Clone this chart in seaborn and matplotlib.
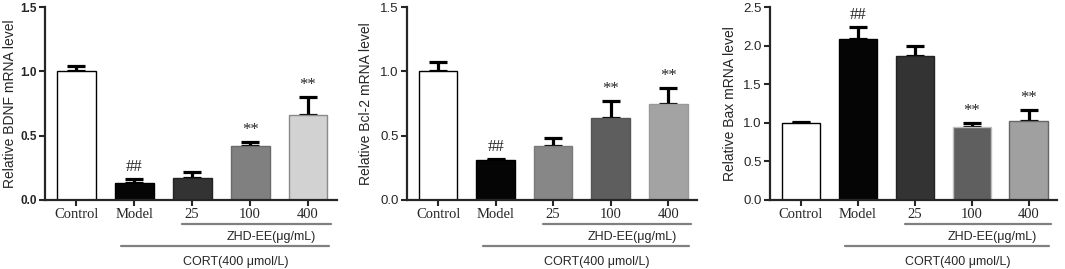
import numpy as np
import pandas as pd
import matplotlib
matplotlib.use("Agg")
import matplotlib.pyplot as plt
import matplotlib.transforms as mtransforms
import seaborn as sns

# groups shared by all three panels
groups = ["Control", "Model", "25", "100", "400"]

# panel values: mean and top of error bar
bdnf_mean = [1.00, 0.13, 0.17, 0.42, 0.66]
bdnf_top = [1.04, 0.16, 0.22, 0.45, 0.80]
bcl2_mean = [1.00, 0.31, 0.42, 0.64, 0.75]
bcl2_top = [1.07, 0.32, 0.48, 0.77, 0.87]
bax_mean = [1.00, 2.08, 1.87, 0.95, 1.02]
bax_top = [1.01, 2.24, 1.99, 1.00, 1.17]

bdnf_marks = ["", "##", "", "**", "**"]
bcl2_marks = ["", "##", "", "**", "**"]
bax_marks = ["", "##", "", "**", "**"]

ylabels = ["Relative BDNF mRNA level", "Relative Bcl-2 mRNA level", "Relative Bax mRNA level"]
yticks_list = [[0.0, 0.5, 1.0, 1.5], [0.0, 0.5, 1.0, 1.5], [0.0, 0.5, 1.0, 1.5, 2.0, 2.5]]

sns.set_style("ticks")
plt.rcParams["font.family"] = ["Liberation Sans", "DejaVu Sans"]

fills = [
    ["#ffffff", "#050505", "#333333", "#808080", "#d2d2d2"],
    ["#ffffff", "#050505", "#878787", "#5e5e5e", "#a3a3a3"],
    ["#ffffff", "#050505", "#333333", "#5f5f5f", "#a0a0a0"],
]
edges = [
    ["#000000", "#000000", "#222222", "#6a6a6a", "#8a8a8a"],
    ["#000000", "#000000", "#7a7a7a", "#555555", "#999999"],
    ["#000000", "#000000", "#222222", "#bdbdbd", "#666666"],
]

panels = [
    (bdnf_mean, bdnf_top, bdnf_marks),
    (bcl2_mean, bcl2_top, bcl2_marks),
    (bax_mean, bax_top, bax_marks),
]

lefts = [45, 407, 770]
widths = [292, 290, 287]
label_x = [-0.096, -0.117, -0.115]

fig = plt.figure(figsize=(10.65, 2.69), dpi=100)
W, H = 1065, 269

for i, (mean, top, marks) in enumerate(panels):
    ax = fig.add_axes([lefts[i] / W, 1 - 200 / H, widths[i] / W, 193 / H])
    df = pd.DataFrame({"group": groups, "value": mean})
    sns.barplot(data=df, x="group", y="value", hue="group", order=groups,
                palette=dict(zip(groups, fills[i])), legend=False,
                width=0.67, ax=ax, errorbar=None, zorder=2)
    for patch, ec in zip(ax.patches, edges[i]):
        patch.set_edgecolor(ec)
        patch.set_linewidth(1.0)

    up = np.array(top) - np.array(mean)
    ax.errorbar(range(len(groups)), mean, yerr=[np.zeros(len(groups)), up],
                fmt="none", ecolor="black", elinewidth=2.3, capsize=6.5,
                capthick=2.3, zorder=1)
    for j, m in enumerate(marks):
        if m:
            ax.annotate(m, (j, top[j]), xytext=(0, 3), textcoords="offset points",
                        ha="center", va="bottom", fontsize=12,
                        family="Liberation Serif")

    ax.set_xlim(-0.54, 4.5)
    yt = yticks_list[i]
    ax.set_ylim(0, yt[-1])
    ax.set_yticks(yt)
    ax.set_yticklabels([f"{v:.1f}" for v in yt],
                       fontsize=8.5 if i == 0 else 9.5,
                       fontweight="bold" if i == 0 else "normal")
    ax.set_xticks(range(len(groups)))
    ax.set_xticklabels(groups, family="Liberation Serif", fontsize=10.5)
    ax.set_xlabel("")
    ax.set_ylabel(ylabels[i], fontsize=10)
    ax.yaxis.set_label_coords(label_x[i], 0.5)
    sns.despine(ax=ax)
    for s in ["left", "bottom"]:
        ax.spines[s].set_linewidth(1.6)
    ax.tick_params(axis="both", direction="out", length=4, width=1.5, pad=2)

    # grouping lines under the x axis
    tr = mtransforms.blended_transform_factory(ax.transData, ax.transAxes)
    ax.plot([1.83, 4.40], [-0.124, -0.124], transform=tr, color="#808080",
            lw=1.6, clip_on=False)
    ax.text(3.37, -0.19, "ZHD-EE(μg/mL)", transform=tr, ha="center",
            va="center", fontsize=9)
    ax.plot([0.78, 4.36], [-0.238, -0.238], transform=tr, color="#808080",
            lw=1.6, clip_on=False)
    ax.text(2.76, -0.32, "CORT(400 μmol/L)", transform=tr, ha="center",
            va="center", fontsize=9)

fig.savefig("out.png", dpi=100)
